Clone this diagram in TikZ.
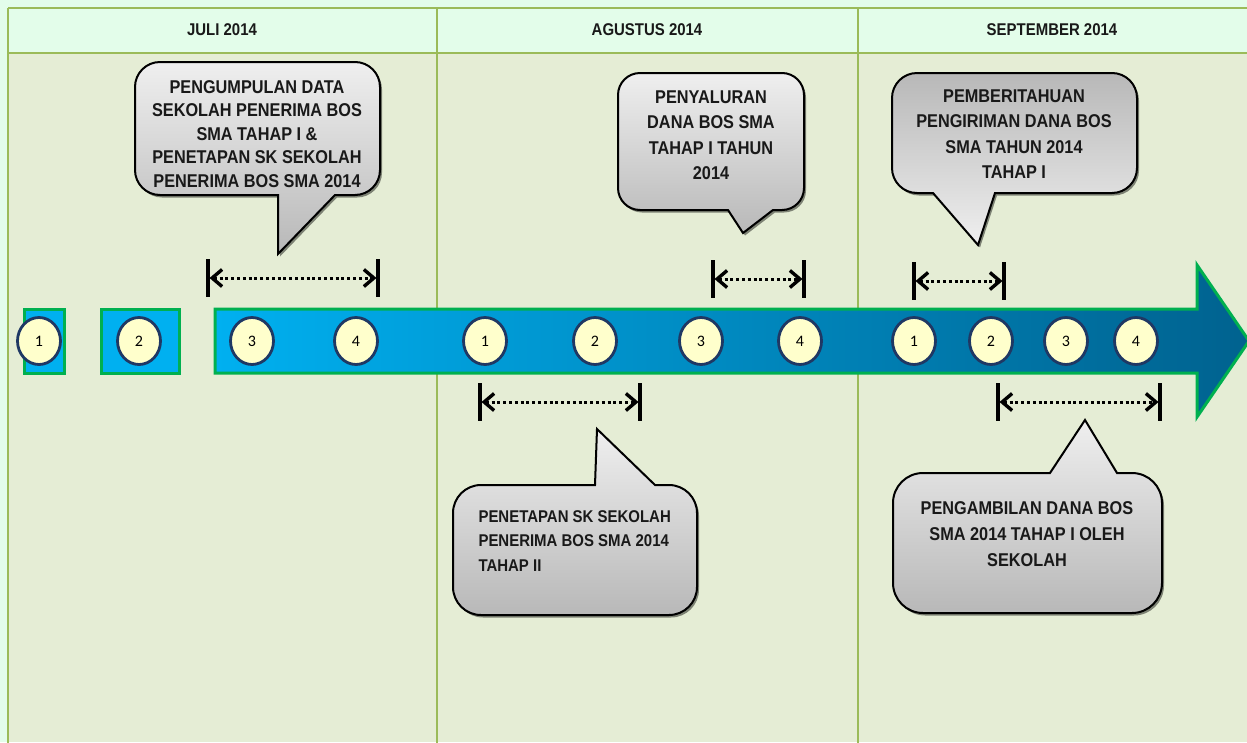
\documentclass[tikz,border=0pt]{standalone}
\usepackage{fontspec}
\setmainfont{Liberation Sans}
\newfontfamily\cfont[FakeStretch=0.88]{Liberation Sans}
\newfontfamily\numfont{Carlito}
\usetikzlibrary{arrows.meta,shapes.geometric,shadows}
\definecolor{mint}{HTML}{E3FDEA}
\definecolor{bodybg}{HTML}{E5EDD5}
\definecolor{gridc}{HTML}{9BBB59}
\definecolor{arrgreen}{HTML}{00B050}
\definecolor{cyanA}{HTML}{00B0F0}
\definecolor{blueB}{HTML}{00628F}
\definecolor{circfill}{HTML}{FFFFCC}
\definecolor{circline}{HTML}{1F3864}
\definecolor{calloutL}{HTML}{EFEFEF}
\definecolor{calloutD}{HTML}{B8B8B8}
\begin{document}
\begin{tikzpicture}[x=1pt,y=-1pt,
  grid/.style={draw=gridc,line width=2.5pt},
  hdr/.style={font=\cfont\bfseries\fontsize{17}{20}\selectfont,text=black!90},
  callout/.style={draw=black,line width=2pt,drop shadow={shadow xshift=2pt,shadow yshift=-2.5pt,fill=black,opacity=0.45}},
  lightdown/.style={top color=calloutL,bottom color=calloutD},
  darkdown/.style={top color=calloutD,bottom color=calloutL},
  ctext/.style={font=\cfont\bfseries\fontsize{18.5}{25.5}\selectfont,align=center,text=black!90},
  num/.style={ellipse,draw=circline,fill=circfill,line width=2.8pt,minimum width=43pt,minimum height=47pt,inner sep=0pt,font=\numfont\fontsize{16}{16}\selectfont},
  bar/.style={line width=3.2pt,black},
  dim/.style={line width=3pt,dash pattern=on 3pt off 2.8pt,shorten <=1.5pt,shorten >=1.5pt,{Straight Barb[length=10pt,width=17pt,line width=3.4pt]}-{Straight Barb[length=10pt,width=17pt,line width=3.4pt]}},
  blk/.style={draw=arrgreen,line width=3pt}]
\useasboundingbox (0,0) rectangle (1247,742);
% background table
\fill[mint] (0,0) rectangle (1247,742);
\fill[bodybg] (8,53) rectangle (1247,742);
\draw[grid] (8,8) -- (1250,8);
\draw[grid] (8,53) -- (1250,53);
\draw[grid] (8,8) -- (8,745);
\draw[grid] (437,8) -- (437,745);
\draw[grid] (858,8) -- (858,745);
\node[hdr] (h1) at (222,30) {JULI 2014};
\node[hdr] (h2) at (647,30) {AGUSTUS 2014};
\node[hdr] (h3) at (1052,30) {SEPTEMBER 2014};
% timeline arrow
\path[blk,fill=cyanA] (24,309) rectangle (64,373);
\path[blk,fill=cyanA] (101,309) rectangle (179,373);
\path[blk,left color=cyanA,right color=blueB] (215,309) -- (1197,309) -- (1197,265) -- (1249,341) -- (1197,417) -- (1197,373) -- (215,373) -- cycle;
% week circles
\node[num] (j1) at (39,341) {1};
\node[num] (j2) at (139,341) {2};
\node[num] (j3) at (252,341) {3};
\node[num] (j4) at (356,341) {4};
\node[num] (a1) at (485,341) {1};
\node[num] (a2) at (595,341) {2};
\node[num] (a3) at (701,341) {3};
\node[num] (a4) at (800,341) {4};
\node[num] (s1) at (914,341) {1};
\node[num] (s2) at (991,341) {2};
\node[num] (s3) at (1066,341) {3};
\node[num] (s4) at (1136,341) {4};
% period markers
\coordinate (d1a) at (208,278); \coordinate (d1b) at (378,278);
\coordinate (d2a) at (713,279); \coordinate (d2b) at (804,279);
\coordinate (d3a) at (914,281); \coordinate (d3b) at (1004,281);
\coordinate (d4a) at (480,402); \coordinate (d4b) at (640,402);
\coordinate (d5a) at (998,402); \coordinate (d5b) at (1160,402);
\foreach \p in {d1a,d1b,d2a,d2b,d3a,d3b,d4a,d4b,d5a,d5b}{\draw[bar] (\p) ++(0,-19) -- ++(0,38);}
\draw[dim] (d1a) -- (d1b);
\draw[dim] (d2a) -- (d2b);
\draw[dim] (d3a) -- (d3b);
\draw[dim] (d4a) -- (d4b);
\draw[dim] (d5a) -- (d5b);
% callouts
\path[callout,lightdown] (135,87) arc[start angle=180,end angle=270,radius=25] -- (355,62) arc[start angle=270,end angle=360,radius=25] -- (380,170) arc[start angle=0,end angle=90,radius=25] -- (335,195) -- (278,254) -- (278,195) -- (160,195) arc[start angle=90,end angle=180,radius=25] -- cycle;
\node[ctext,font=\cfont\bfseries\fontsize{18.5}{23.5}\selectfont] (c1) at (257,134) {PENGUMPULAN DATA\\SEKOLAH PENERIMA BOS\\SMA TAHAP I \&\\PENETAPAN SK SEKOLAH\\PENERIMA BOS SMA 2014};
\path[callout,lightdown] (618,95) arc[start angle=180,end angle=270,radius=22] -- (782,73) arc[start angle=270,end angle=360,radius=22] -- (804,188) arc[start angle=0,end angle=90,radius=22] -- (773,210) -- (743,233) -- (728,210) -- (640,210) arc[start angle=90,end angle=180,radius=22] -- cycle;
\node[ctext] (c2) at (711,135) {PENYALURAN\\DANA BOS SMA\\TAHAP I TAHUN\\2014};
\path[callout,darkdown] (892,98) arc[start angle=180,end angle=270,radius=25] -- (1112,73) arc[start angle=270,end angle=360,radius=25] -- (1137,168) arc[start angle=0,end angle=90,radius=25] -- (995,193) -- (978,245) -- (933,193) -- (917,193) arc[start angle=90,end angle=180,radius=25] -- cycle;
\node[ctext] (c3) at (1014,134) {PEMBERITAHUAN\\PENGIRIMAN DANA BOS\\SMA TAHUN 2014\\TAHAP I};
\path[callout,lightdown] (453,513) arc[start angle=180,end angle=270,radius=28] -- (595,485) -- (597,429) -- (655,485) -- (669,485) arc[start angle=270,end angle=360,radius=28] -- (697,587) arc[start angle=0,end angle=90,radius=28] -- (481,615) arc[start angle=90,end angle=180,radius=28] -- cycle;
\node[ctext,align=left,anchor=west,font=\cfont\bfseries\fontsize{17}{24.5}\selectfont] (c4) at (475,541) {PENETAPAN SK SEKOLAH\\PENERIMA BOS SMA 2014\\TAHAP II};
\path[callout,lightdown] (893,503) arc[start angle=180,end angle=270,radius=30] -- (1050,473) -- (1085,420) -- (1117,473) -- (1132,473) arc[start angle=270,end angle=360,radius=30] -- (1162,583) arc[start angle=0,end angle=90,radius=30] -- (923,613) arc[start angle=90,end angle=180,radius=30] -- cycle;
\node[ctext,font=\cfont\bfseries\fontsize{18.5}{26}\selectfont] (c5) at (1027,534) {PENGAMBILAN DANA BOS\\SMA 2014 TAHAP I OLEH\\SEKOLAH};
\end{tikzpicture}
\end{document}
